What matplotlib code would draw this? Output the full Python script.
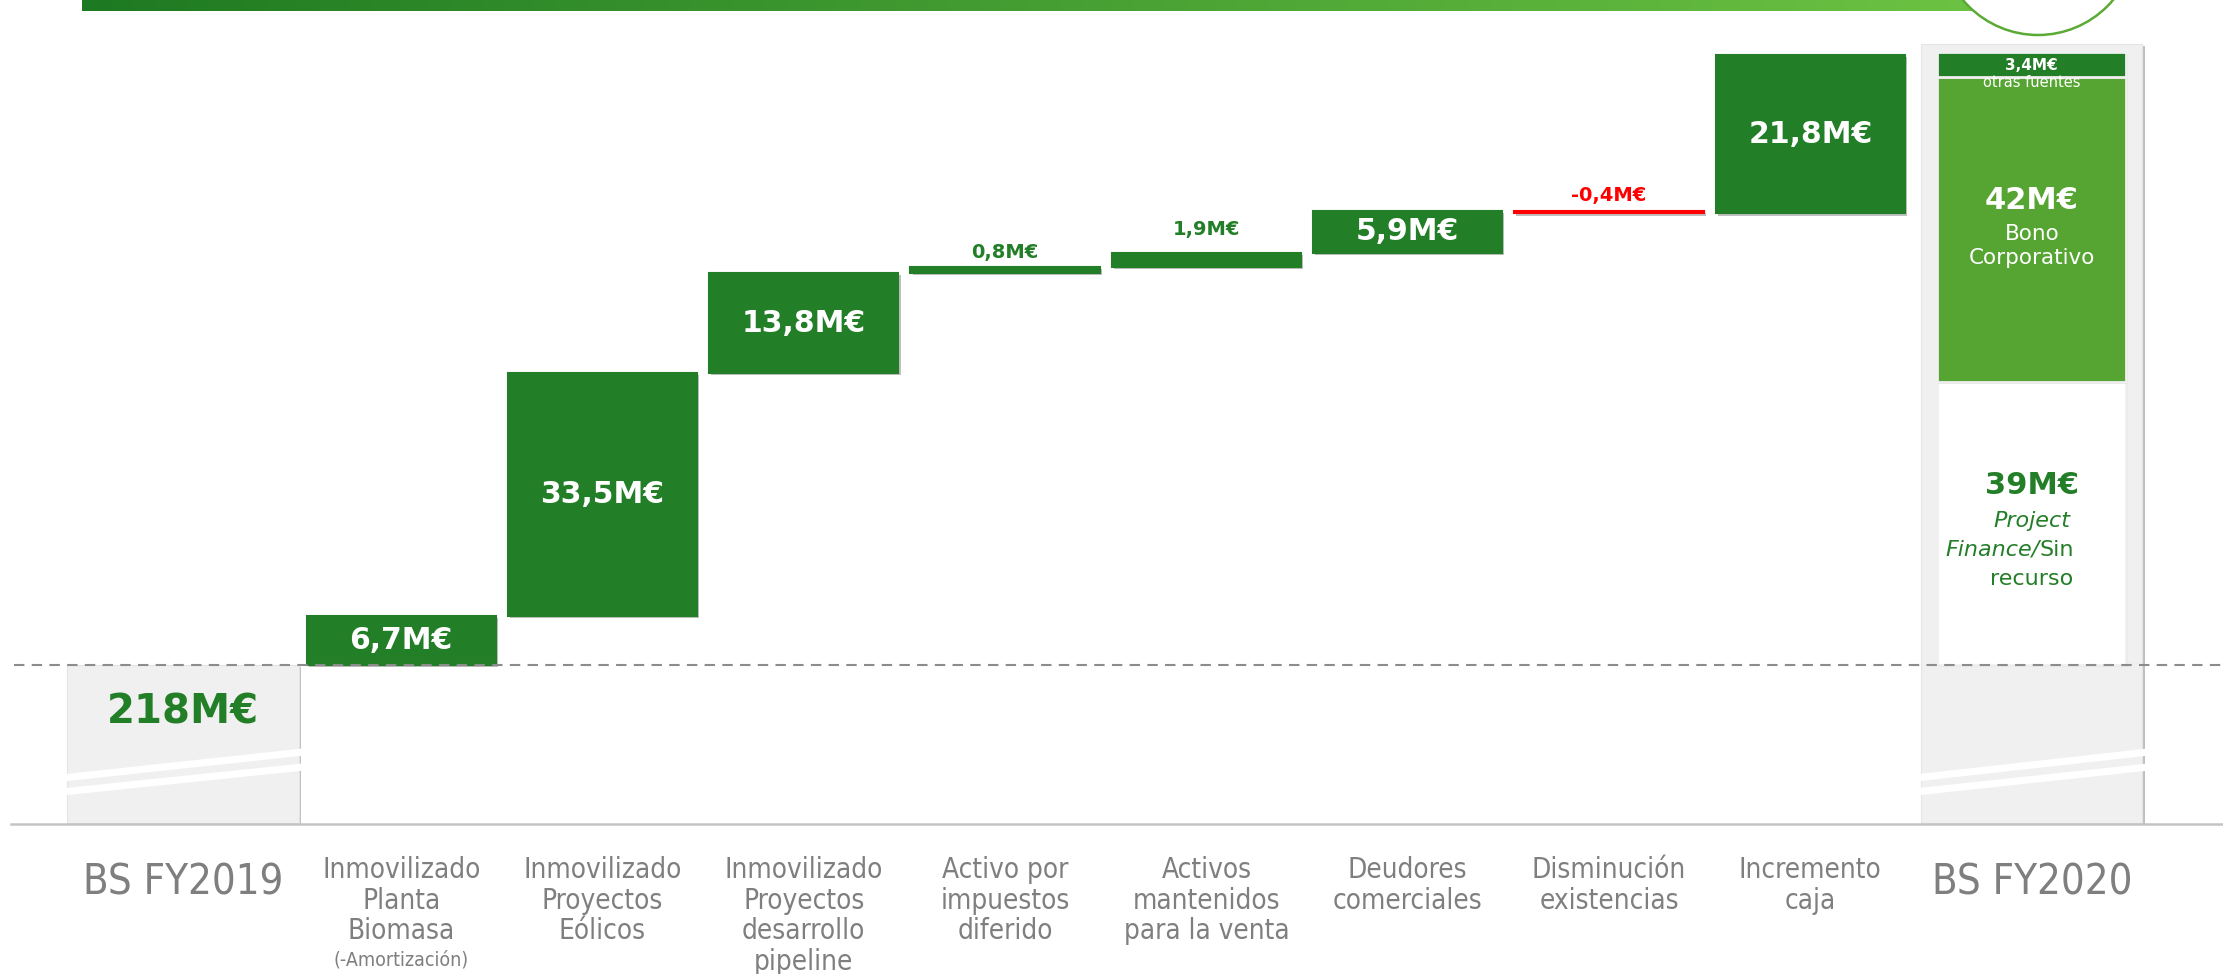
import numpy as np
import matplotlib
import matplotlib.pyplot as plt
import matplotlib.patheffects as pe
import matplotlib.font_manager as fm
from matplotlib.patches import Ellipse
from matplotlib.colors import LinearSegmentedColormap

# data
categories = ['BS FY2019',
              'Inmovilizado\nPlanta\nBiomasa',
              'Inmovilizado\nProyectos\nEólicos',
              'Inmovilizado\nProyectos\ndesarrollo\npipeline',
              'Activo por\nimpuestos\ndiferido',
              'Activos\nmantenidos\npara la venta',
              'Deudores\ncomerciales',
              'Disminución\nexistencias',
              'Incremento\ncaja',
              'BS FY2020']
start_value = 218
start_label = '218M€'
deltas = [6.7, 33.5, 13.8, 0.8, 1.9, 5.9, -0.4, 21.8]
delta_labels = ['6,7M€', '33,5M€', '13,8M€', '0,8M€', '1,9M€', '5,9M€', '-0,4M€', '21,8M€']
funding = [39, 42, 3.4]
funding_labels = ['39M€', '42M€', '3,4M€']
funding_names = ['Project\nFinance/Sin\nrecurso', 'Bono\nCorporativo', 'otras fuentes']

GREEN = '#237e28'
LIGHT = '#56a532'
RED = '#ff0000'
GREY_TXT = '#7f7f7f'
BOX = '#f0f0f0'

# narrow font for the category labels, if any is installed
names = {f.name for f in fm.fontManager.ttflist}
cond = [f for f in fm.fontManager.ttflist if f.stretch in ('condensed', 'semi-condensed', 'extra-condensed')]
if 'Liberation Sans Narrow' in names:
    narrow = dict(family='Liberation Sans Narrow')
elif cond:
    narrow = dict(family=cond[0].name, fontstretch=cond[0].stretch)
else:
    narrow = dict(family='DejaVu Sans')

W, H = 2223, 974
PXU = 7.26  # pixels per M€
fig = plt.figure(figsize=(W / 100, H / 100), dpi=100)
ax = fig.add_axes([0, 0, 1, 1])
ax.set_ylim(start_value - (H - 665) / PXU, start_value + 665 / PXU)
ax.set_xlim(-0.993, 10.05)
ax.axis('off')

def ypx(p):
    return start_value + (665 - p) / PXU

shadow = [pe.SimplePatchShadow(offset=(1.5, -1.5), shadow_rgbFace='k', alpha=0.25), pe.Normal()]
x = np.arange(len(categories), dtype=float)
x[0] -= 0.085
x[-1] += 0.1
bw = 0.94
base_low = ypx(823)

# BS FY2019 grey box
ax.bar(x[0], start_value - base_low, bottom=base_low, width=1.15, color=BOX,
       edgecolor='#e4e4e4', lw=0.8, zorder=1, path_effects=shadow)
ax.text(x[0], ypx(712), start_label, color=GREEN, fontsize=29, fontweight='bold',
        ha='center', va='center', zorder=5)

# waterfall
cum = start_value
for i, (d, lab) in enumerate(zip(deltas, delta_labels)):
    xi = x[i + 1]
    col = RED if d < 0 else GREEN
    lo, hi = min(cum, cum + d), max(cum, cum + d)
    ax.bar(xi, hi - lo, bottom=lo, width=bw, color=col, edgecolor=col, lw=1.5,
           zorder=2, path_effects=shadow)
    if abs(d) >= 3:
        ax.text(xi, (lo + hi) / 2, lab, color='white', fontsize=21.5, fontweight='bold',
                ha='center', va='center', zorder=5)
    else:
        ax.annotate(lab, (xi, hi), xytext=(0, 4 if d < 1 else 10), textcoords='offset points',
                    color=col, fontsize=14, fontweight='bold', ha='center', va='bottom', zorder=5)
    cum += d

# BS FY2020 stack
total = sum(funding)
ax.bar(x[-1], start_value + total + 1.2 - base_low, bottom=base_low, width=1.1, color=BOX,
       edgecolor='#e4e4e4', lw=0.8, zorder=1, path_effects=shadow)
bottoms = start_value + np.concatenate([[0], np.cumsum(funding)[:-1]])
seg_cols = ['white', LIGHT, GREEN]
for b, v, c in zip(bottoms, funding, seg_cols):
    ax.bar(x[-1], v, bottom=b, width=bw, color=c, edgecolor=BOX, lw=2, zorder=2,
           path_effects=shadow)

xc = x[-1]
mid = bottoms[0] + funding[0] / 2
ax.annotate(funding_labels[0], (xc, mid), xytext=(0, 27), textcoords='offset points',
            color=GREEN, fontsize=22, fontweight='bold', ha='center', va='center', zorder=5)
pf = funding_names[0].split('\n')
ax.annotate(pf[0], (xc, mid), xytext=(0, 2), textcoords='offset points', color=GREEN,
            fontsize=16, style='italic', ha='center', va='center', zorder=5)
fin, sin = pf[1].split('/')
ax.annotate(fin + '/', (xc + 0.04, mid), xytext=(0, -19), textcoords='offset points',
            color=GREEN, fontsize=16, style='italic', ha='right', va='center', zorder=5)
ax.annotate(sin, (xc + 0.04, mid), xytext=(0, -19), textcoords='offset points',
            color=GREEN, fontsize=16, ha='left', va='center', zorder=5)
ax.annotate(pf[2], (xc, mid), xytext=(0, -40), textcoords='offset points', color=GREEN,
            fontsize=16, ha='center', va='center', zorder=5)

mid = bottoms[1] + funding[1] / 2
ax.annotate(funding_labels[1], (xc, mid), xytext=(0, 21), textcoords='offset points',
            color='white', fontsize=22, fontweight='bold', ha='center', va='center', zorder=5)
ax.annotate(funding_names[1], (xc, mid), xytext=(0, -12), textcoords='offset points',
            color='white', fontsize=15.5, ha='center', va='center', linespacing=1.25, zorder=5)

mid = bottoms[2] + funding[2] / 2
ax.annotate(funding_labels[2], (xc, mid), xytext=(0, -1), textcoords='offset points',
            color='white', fontsize=11, fontweight='bold', ha='center', va='center', zorder=5)
ax.annotate(funding_names[2], (xc, mid), xytext=(0, -13), textcoords='offset points',
            color='white', fontsize=10.5, ha='center', va='center', zorder=5)

# axis break stripes
for xb, half in [(x[0], 0.6), (x[-1], 0.58)]:
    for yl, yr in [(ypx(778), ypx(752)), (ypx(792), ypx(767))]:
        t = 3.6 / PXU
        ax.fill([xb - half, xb + half, xb + half, xb - half],
                [yl - t, yr - t, yr + t, yl + t], color='white', lw=0, zorder=3)

# reference lines
ax.axhline(start_value, xmin=14 / W, xmax=1, color='#8c8c8c', lw=1.5, dashes=(5, 3.5), zorder=4)
ax.axhline(base_low - 0.15, xmin=11 / W, xmax=1, color='#c4c4c4', lw=1.8, zorder=4)

# category labels
for i, lab in enumerate(categories):
    if i in (0, len(categories) - 1):
        ax.text(x[i], ypx(882), lab, color=GREY_TXT, fontsize=30, ha='center', va='center',
                **narrow)
    else:
        ax.text(x[i], ypx(856), lab, color=GREY_TXT, fontsize=20, ha='center', va='top',
                linespacing=1.12, **narrow)
ax.text(x[1], ypx(950), '(-Amortización)', color=GREY_TXT, fontsize=14, ha='center',
        va='top', **narrow)

# header bar + circle
hax = fig.add_axes([82 / W, 1 - 11 / H, (1978 - 82) / W, 11 / H])
cmap = LinearSegmentedColormap.from_list('hdr', ['#1e7a22', '#6cc242'])
hax.imshow(np.linspace(0, 1, 256)[None, :], aspect='auto', cmap=cmap)
hax.axis('off')
fig.patches.append(Ellipse((2038 / W, 1 + 63 / H), 2 * 98 / W, 2 * 98 / H,
                           transform=fig.transFigure, facecolor='white',
                           edgecolor='#5aaa35', lw=1.8, zorder=10))

fig.savefig('out.png', dpi=100)
